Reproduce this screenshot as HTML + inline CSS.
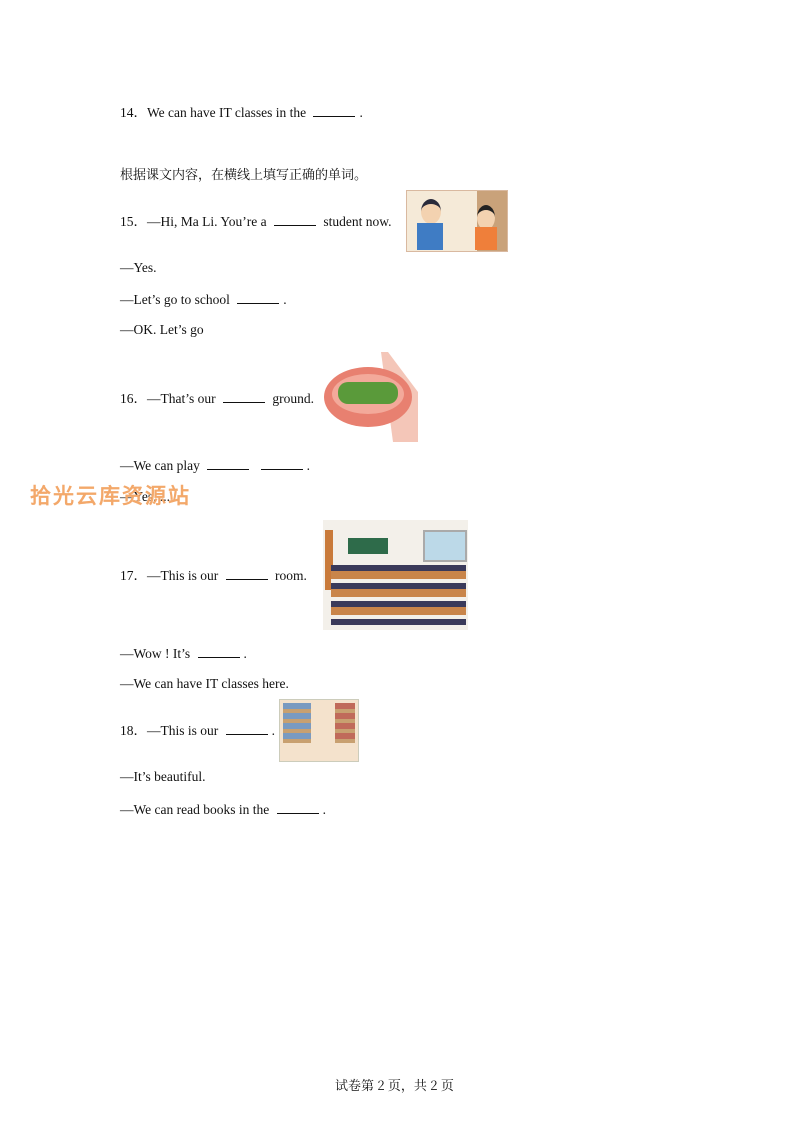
<!DOCTYPE html>
<html><head><meta charset="utf-8"><style>
body{margin:0;width:793px;height:1122px;background:#fff;position:relative;font-family:"Liberation Serif","Noto Serif CJK SC",serif;font-size:13.5px;color:#111;overflow:hidden}
.t{position:absolute;white-space:nowrap;line-height:16px}
.b{display:inline-block;width:42px;border-bottom:1px solid #111;height:12px;vertical-align:baseline;margin:0 4px}
.i{position:absolute}
</style></head><body>
<div class="t" style="left:120px;top:104px">14．We can have IT classes in the <span class="b"></span>.</div>
<div class="t" style="left:120px;top:166px;font-family:'Noto Serif CJK SC',serif;font-size:13px">根据课文内容，在横线上填写正确的单词。</div>
<div class="t" style="left:120px;top:213px">15．—Hi, Ma Li. You’re a <span class="b"></span> student now.</div>
<div class="i" style="left:406px;top:190px;width:100px;height:60px;background:#f5ead8;border:1px solid #d9b9a0">
<div class="i" style="left:70px;top:0;width:30px;height:60px;background:#c9a27a"></div>
<div class="i" style="left:14px;top:8px;width:20px;height:20px;border-radius:50%;background:#f3d2b0;border-top:5px solid #2a2a3a"></div>
<div class="i" style="left:10px;top:32px;width:26px;height:27px;background:#3f7cc4"></div>
<div class="i" style="left:70px;top:14px;width:18px;height:20px;border-radius:50%;background:#f3d2b0;border-top:5px solid #222"></div>
<div class="i" style="left:68px;top:36px;width:22px;height:23px;background:#ef7f3a"></div></div>
<div class="t" style="left:120px;top:260px">—Yes.</div>
<div class="t" style="left:120px;top:291px">—Let’s go to school <span class="b"></span>.</div>
<div class="t" style="left:120px;top:322px">—OK. Let’s go</div>
<div class="t" style="left:120px;top:390px">16．—That’s our <span class="b"></span> ground.</div>
<svg class="i" style="left:323px;top:352px" width="95" height="90"><polygon points="58,0 65,0 95,40 95,90 70,90" fill="#f4c6b8"/><ellipse cx="45" cy="45" rx="44" ry="30" fill="#e88070"/><ellipse cx="45" cy="42" rx="36" ry="20" fill="#f3a99a"/><rect x="15" y="30" width="60" height="22" rx="10" fill="#5a9a3a"/></svg>
<div class="t" style="left:120px;top:457px">—We can play <span class="b"></span> <span class="b"></span>.</div>
<div class="t" style="left:120px;top:489px">—Yes, ...</div>
<div class="t" style="left:30px;top:484px;font-size:21px;line-height:26px;font-weight:bold;color:#f3a86a;letter-spacing:2px;font-family:'WenQuanYi Zen Hei',sans-serif">拾光云库资源站</div>
<div class="t" style="left:120px;top:567px">17．—This is our <span class="b"></span> room.</div>
<div class="i" style="left:323px;top:520px;width:145px;height:110px;background:#f3f0ea">
<div class="i" style="left:25px;top:18px;width:40px;height:16px;background:#2e6b4a"></div>
<div class="i" style="left:100px;top:10px;width:40px;height:28px;background:#bcd9e8;border:2px solid #aaa"></div>
<div class="i" style="left:2px;top:10px;width:8px;height:60px;background:#c97a3a"></div>
<div class="i" style="left:8px;top:45px;width:135px;height:60px;background:repeating-linear-gradient(180deg,#3a3a5a 0 6px,#c9854a 6px 14px,#f3f0ea 14px 18px)"></div></div>
<div class="t" style="left:120px;top:645px">—Wow ! It’s <span class="b"></span>.</div>
<div class="t" style="left:120px;top:676px">—We can have IT classes here.</div>
<div class="t" style="left:120px;top:722px">18．—This is our <span class="b"></span>.</div>
<div class="i" style="left:279px;top:699px;width:78px;height:61px;background:#f4e2cc;border:1px solid #ccb">
<div class="i" style="left:3px;top:3px;width:28px;height:40px;background:repeating-linear-gradient(180deg,#7a9ac0 0 6px,#c8a070 6px 10px)"></div>
<div class="i" style="left:55px;top:3px;width:20px;height:40px;background:repeating-linear-gradient(180deg,#c06a5a 0 6px,#c8a070 6px 10px)"></div></div>
<div class="t" style="left:120px;top:769px">—It’s beautiful.</div>
<div class="t" style="left:120px;top:801px">—We can read books in the <span class="b"></span>.</div>
<div class="t" style="left:335px;top:1077px;font-family:'Noto Serif CJK SC',serif;font-size:13px">试卷第 2 页，共 2 页</div>
</body></html>
